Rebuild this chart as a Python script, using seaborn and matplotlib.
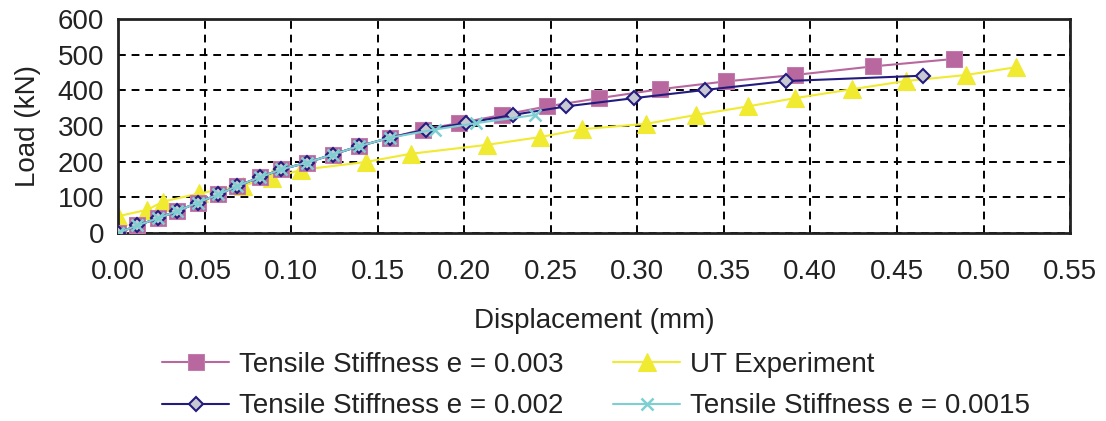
import matplotlib
matplotlib.use('Agg')
import matplotlib.pyplot as plt
import seaborn as sns
import pandas as pd

# 데이터
disp_e003 = [0.000, 0.011, 0.023, 0.034, 0.046, 0.058, 0.069, 0.082, 0.094, 0.109, 0.124, 0.139,
             0.157, 0.176, 0.197, 0.222, 0.248, 0.278, 0.313, 0.351, 0.391, 0.436, 0.483]
load_e003 = [0, 21, 41, 61, 85, 108, 132, 156, 178, 197, 220, 243,
             267, 290, 308, 331, 355, 378, 403, 425, 443, 467, 488]

disp_ut = [0.000, 0.017, 0.026, 0.047, 0.072, 0.089, 0.106, 0.143, 0.169, 0.213, 0.244, 0.268,
           0.305, 0.334, 0.364, 0.391, 0.424, 0.455, 0.490, 0.519]
load_ut = [47, 65, 88, 111, 133, 154, 177, 199, 222, 247, 269, 291,
           306, 331, 355, 378, 403, 426, 443, 465]

disp_e002 = [0.000, 0.011, 0.023, 0.034, 0.046, 0.058, 0.069, 0.082, 0.094, 0.109, 0.124, 0.139,
             0.157, 0.178, 0.201, 0.228, 0.259, 0.298, 0.339, 0.386, 0.465]
load_e002 = [0, 21, 41, 61, 85, 108, 132, 156, 178, 197, 220, 243,
             267, 290, 308, 331, 355, 378, 401, 426, 441]

disp_e0015 = [0.000, 0.011, 0.023, 0.034, 0.046, 0.058, 0.069, 0.082, 0.094, 0.109, 0.124, 0.139,
              0.157, 0.183, 0.207, 0.241]
load_e0015 = [0, 21, 41, 61, 85, 108, 132, 156, 178, 197, 220, 243,
              267, 290, 308, 331]

x_ticks = [0.00, 0.05, 0.10, 0.15, 0.20, 0.25, 0.30, 0.35, 0.40, 0.45, 0.50, 0.55]
y_ticks = [0, 100, 200, 300, 400, 500, 600]

sns.set_style('white')
plt.rcParams['font.family'] = ['Liberation Sans', 'DejaVu Sans']

fig = plt.figure(figsize=(11.06, 4.21), dpi=100)
ax = fig.add_axes([0.1067, 0.4466, 0.8608, 0.5083])

fs = 20

# 선 + 마커
df1 = pd.DataFrame({'x': disp_e003, 'y': load_e003})
sns.lineplot(data=df1, x='x', y='y', ax=ax, color='#B8689F', lw=1.5, marker='s', markersize=11,
             markeredgecolor='#C27CAE', markerfacecolor='#B8689F', label='Tensile Stiffness e = 0.003',
             zorder=3, sort=False)
df4 = pd.DataFrame({'x': disp_ut, 'y': load_ut})
sns.lineplot(data=df4, x='x', y='y', ax=ax, color='#F0EA30', lw=1.5, marker='^', markersize=13,
             markeredgecolor='#F0EA30', markerfacecolor='#F0EA30', label='UT Experiment',
             zorder=2, sort=False)
df2 = pd.DataFrame({'x': disp_e002, 'y': load_e002})
sns.lineplot(data=df2, x='x', y='y', ax=ax, color='#231C7E', lw=1.5, marker='D', markersize=7,
             markeredgecolor='#231C7E', markerfacecolor='#C8C9D2', markeredgewidth=1.5,
             label='Tensile Stiffness e = 0.002', zorder=4, sort=False)
df3 = pd.DataFrame({'x': disp_e0015, 'y': load_e0015})
sns.lineplot(data=df3, x='x', y='y', ax=ax, color='#7ECFD2', lw=1.5, marker='x', markersize=9,
             markeredgecolor='#7ECFD2', markeredgewidth=1.8,
             label='Tensile Stiffness e = 0.0015', zorder=5, sort=False)

ax.set_xlim(0, 0.55)
ax.set_ylim(0, 600)
ax.set_xticks(x_ticks)
ax.set_xticklabels([f'{v:.2f}' for v in x_ticks], fontsize=fs)
ax.set_yticks(y_ticks)
ax.set_yticklabels([str(v) for v in y_ticks], fontsize=fs)
ax.tick_params(axis='x', direction='inout', length=10, width=1, pad=14, colors='#222222')
ax.tick_params(axis='y', direction='out', length=6, width=1, pad=4, colors='#222222')
for lab in ax.get_xticklabels() + ax.get_yticklabels():
    lab.set_color('#222222')

ax.grid(True, color='black', linestyle=(0, (4, 3)), linewidth=1.4)
for s in ax.spines.values():
    s.set_visible(True)
    s.set_color('#222222')
    s.set_linewidth(2)

ax.set_xlabel('Displacement (mm)', fontsize=fs, color='#222222', labelpad=16)
ax.set_ylabel('Load (kN)', fontsize=fs, color='#222222', labelpad=12)

# 범례 (2열, 행 순서대로)
h, l = ax.get_legend_handles_labels()
ax.get_legend().remove()
order = [0, 2, 1, 3]
fig.legend([h[i] for i in order], [l[i] for i in order], ncol=2, loc='center',
           bbox_to_anchor=(0.539, 0.084), frameon=False, fontsize=fs,
           handlelength=2.4, handletextpad=0.35, columnspacing=1.8, labelspacing=0.55,
           borderpad=0.1, labelcolor='#222222')

fig.savefig('out.png', dpi=100)
